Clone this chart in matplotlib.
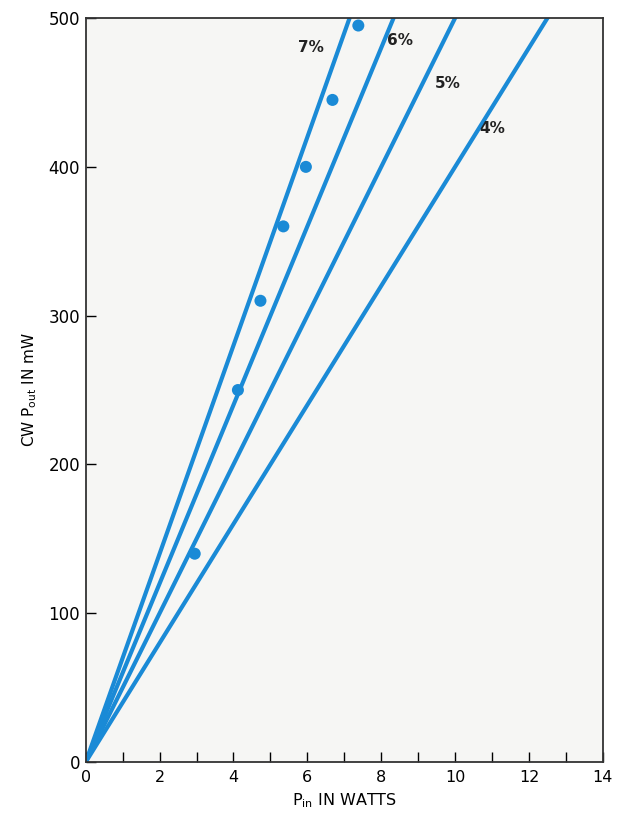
import numpy as np
import matplotlib
matplotlib.use("Agg")
import matplotlib.pyplot as plt

# efficiency lines (percent) and their label positions
efficiencies = [7, 6, 5, 4]
label_x = [6.1, 8.5, 9.8, 11.0]
label_y = [480, 485, 456, 426]

# measured points
p_in = [2.95, 4.12, 4.73, 5.35, 5.96, 6.68, 7.38]
p_out = [140, 250, 310, 360, 400, 445, 495]

blue = "#1a8ad6"

fig = plt.figure(figsize=(6.17, 8.22), dpi=100)
ax = fig.add_axes([0.139, 0.073, 0.838, 0.905])
ax.set_facecolor("#f6f6f4")

x = np.array([0, 14])
for eff in efficiencies:
    ax.plot(x, x * eff * 10, color=blue, lw=3, solid_capstyle="butt", zorder=2)

ax.scatter(p_in, p_out, s=75, color=blue, zorder=3, edgecolors="none")

for eff, lx, ly in zip(efficiencies, label_x, label_y):
    ax.text(lx, ly, f"{eff}%", fontsize=11, fontweight="bold", color="#222222",
            ha="center", va="center")

ax.set_xlim(0, 14)
ax.set_ylim(0, 500)
ax.set_xticks(range(0, 15, 2))
ax.set_xticks(range(0, 15, 1), minor=True)
ax.set_yticks(range(0, 501, 100))
ax.tick_params(direction="in", length=7, width=1, labelsize=12, pad=4)
ax.tick_params(which="minor", direction="in", length=7, width=1)
ax.tick_params(axis="x", pad=6, labelsize=11.5)

for s in ax.spines.values():
    s.set_linewidth(1.3)
    s.set_color("#333333")

ax.set_xlabel(r"P$_{\rm in}$ IN WATTS", fontsize=11.5, labelpad=4)
ax.set_ylabel(r"CW P$_{\rm out}$ IN mW", fontsize=11, labelpad=7)

fig.savefig("out.png", dpi=100)
